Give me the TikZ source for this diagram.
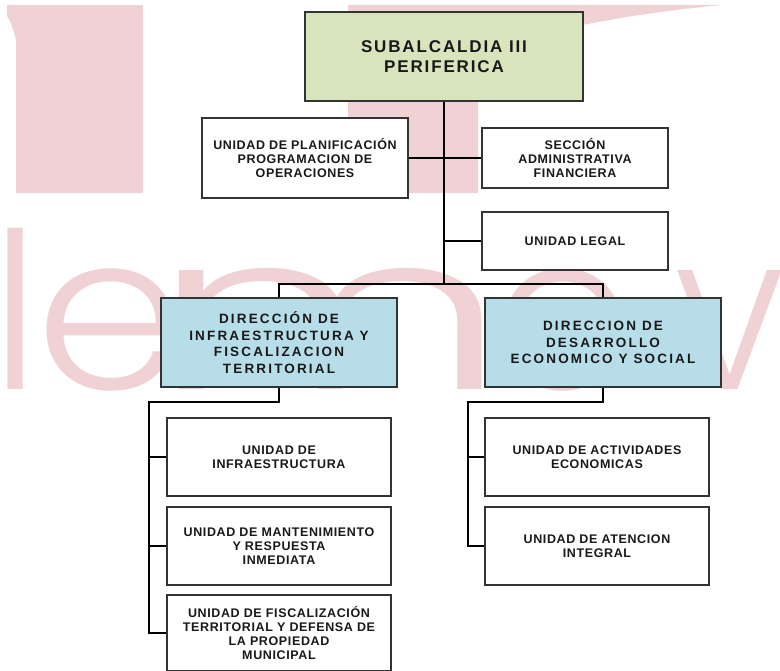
\documentclass[tikz,border=0pt]{standalone}
\usepackage{fontspec}
\setmainfont{Liberation Sans}
\newfontfamily\unitfont[LetterSpace=5]{Liberation Sans}
\newfontfamily\dirfont[LetterSpace=16]{Liberation Sans}
\newfontfamily\headfont[LetterSpace=11]{Liberation Sans}
\newfontfamily\markfont{Poppins Light}
\definecolor{headgreen}{HTML}{D7E4BC}
\definecolor{dirblue}{HTML}{B7DDE8}
\definecolor{markpink}{RGB}{241,210,212}
\definecolor{edgegray}{HTML}{333333}
\tikzset{
  unitbox/.style={draw=edgegray, line width=2pt, fill=white, align=center, inner sep=0pt,
    text=black!90, font=\unitfont\bfseries\fontsize{12.5}{14}\selectfont},
  dirbox/.style={unitbox, fill=dirblue, minimum width=236pt, minimum height=89pt,
    font=\dirfont\bfseries\fontsize{13.5}{16.7}\selectfont},
  headbox/.style={unitbox, fill=headgreen, minimum width=278pt, minimum height=89pt,
    font=\headfont\bfseries\fontsize{17}{20}\selectfont},
  subbox/.style={unitbox, minimum width=224pt, minimum height=78pt},
  link/.style={draw=black, line width=2pt},
  markletter/.style={text=markpink, inner sep=0pt, anchor=base,
    font=\markfont\fontsize{218}{218}\selectfont}
}
\begin{document}
\begin{tikzpicture}[x=1pt,y=-1pt]
\useasboundingbox (0,0) rectangle (780,671);
\fill[white] (0,0) rectangle (780,671);
% watermark
\fill[markpink] (16,5) rectangle (143,193);
\fill[markpink] (7,5) -- (16,5) -- (16,40) .. controls (12,25) .. (7,16) -- cycle;
\fill[markpink] (348,5) -- (722,5) .. controls (650,12) and (580,22) .. (478,50) -- (478,193) -- (348,193) -- cycle;
\node[markletter] (wml) at (15.5,389) {l};
\node[markletter, xscale=1.1] (wme) at (110,389) {e};
\node[markletter, xscale=1.6] (wmm) at (330,389) {m};
\node[markletter] (wmo) at (563,389) {o};
\node[markletter, xscale=0.93] (wmv) at (730,389) {v};

% boxes
\node[headbox] (head) at (444,57) {SUBALCALDIA III\\PERIFERICA};
\node[unitbox, minimum width=206pt, minimum height=80pt] (plan) at (305,158)
  {UNIDAD DE PLANIFICACIÓN\\PROGRAMACION DE\\OPERACIONES};
\node[unitbox, minimum width=186pt, minimum height=60pt] (admin) at (575,158)
  {SECCIÓN\\ADMINISTRATIVA\\FINANCIERA};
\node[unitbox, minimum width=186pt, minimum height=58pt] (legal) at (575,241) {UNIDAD LEGAL};
\node[dirbox] (infra) at (279,342.5) {DIRECCIÓN DE\\INFRAESTRUCTURA Y\\FISCALIZACION\\TERRITORIAL};
\node[dirbox] (econ) at (603,342.5) {DIRECCION DE\\DESARROLLO\\ECONOMICO Y SOCIAL};
\node[subbox] (uinfra) at (279,457) {UNIDAD DE\\INFRAESTRUCTURA};
\node[subbox] (umant) at (279,546) {UNIDAD DE MANTENIMIENTO\\Y RESPUESTA\\INMEDIATA};
\node[subbox, minimum height=76pt] (ufisc) at (279,633)
  {UNIDAD DE FISCALIZACIÓN\\TERRITORIAL Y DEFENSA DE\\LA PROPIEDAD\\MUNICIPAL};
\node[subbox] (uact) at (597,457) {UNIDAD DE ACTIVIDADES\\ECONOMICAS};
\node[subbox] (uaten) at (597,546) {UNIDAD DE ATENCION\\INTEGRAL};

% connectors
\coordinate (bar) at (444,284);
\coordinate (lspine) at (149,402);
\coordinate (rspine) at (468,402);
\draw[link] (head.south) -- (bar);
\draw[link] (plan.east) -- (admin.west);
\draw[link] (head.south |- legal.west) -- (legal.west);
\draw[link] (infra.north) |- (bar) -| (econ.north);
\draw[link] (infra.south) |- (lspine) |- (ufisc.west);
\draw[link] (lspine |- uinfra.west) -- (uinfra.west);
\draw[link] (lspine |- umant.west) -- (umant.west);
\draw[link] (econ.south) |- (rspine) |- (uaten.west);
\draw[link] (rspine |- uact.west) -- (uact.west);
\end{tikzpicture}
\end{document}
